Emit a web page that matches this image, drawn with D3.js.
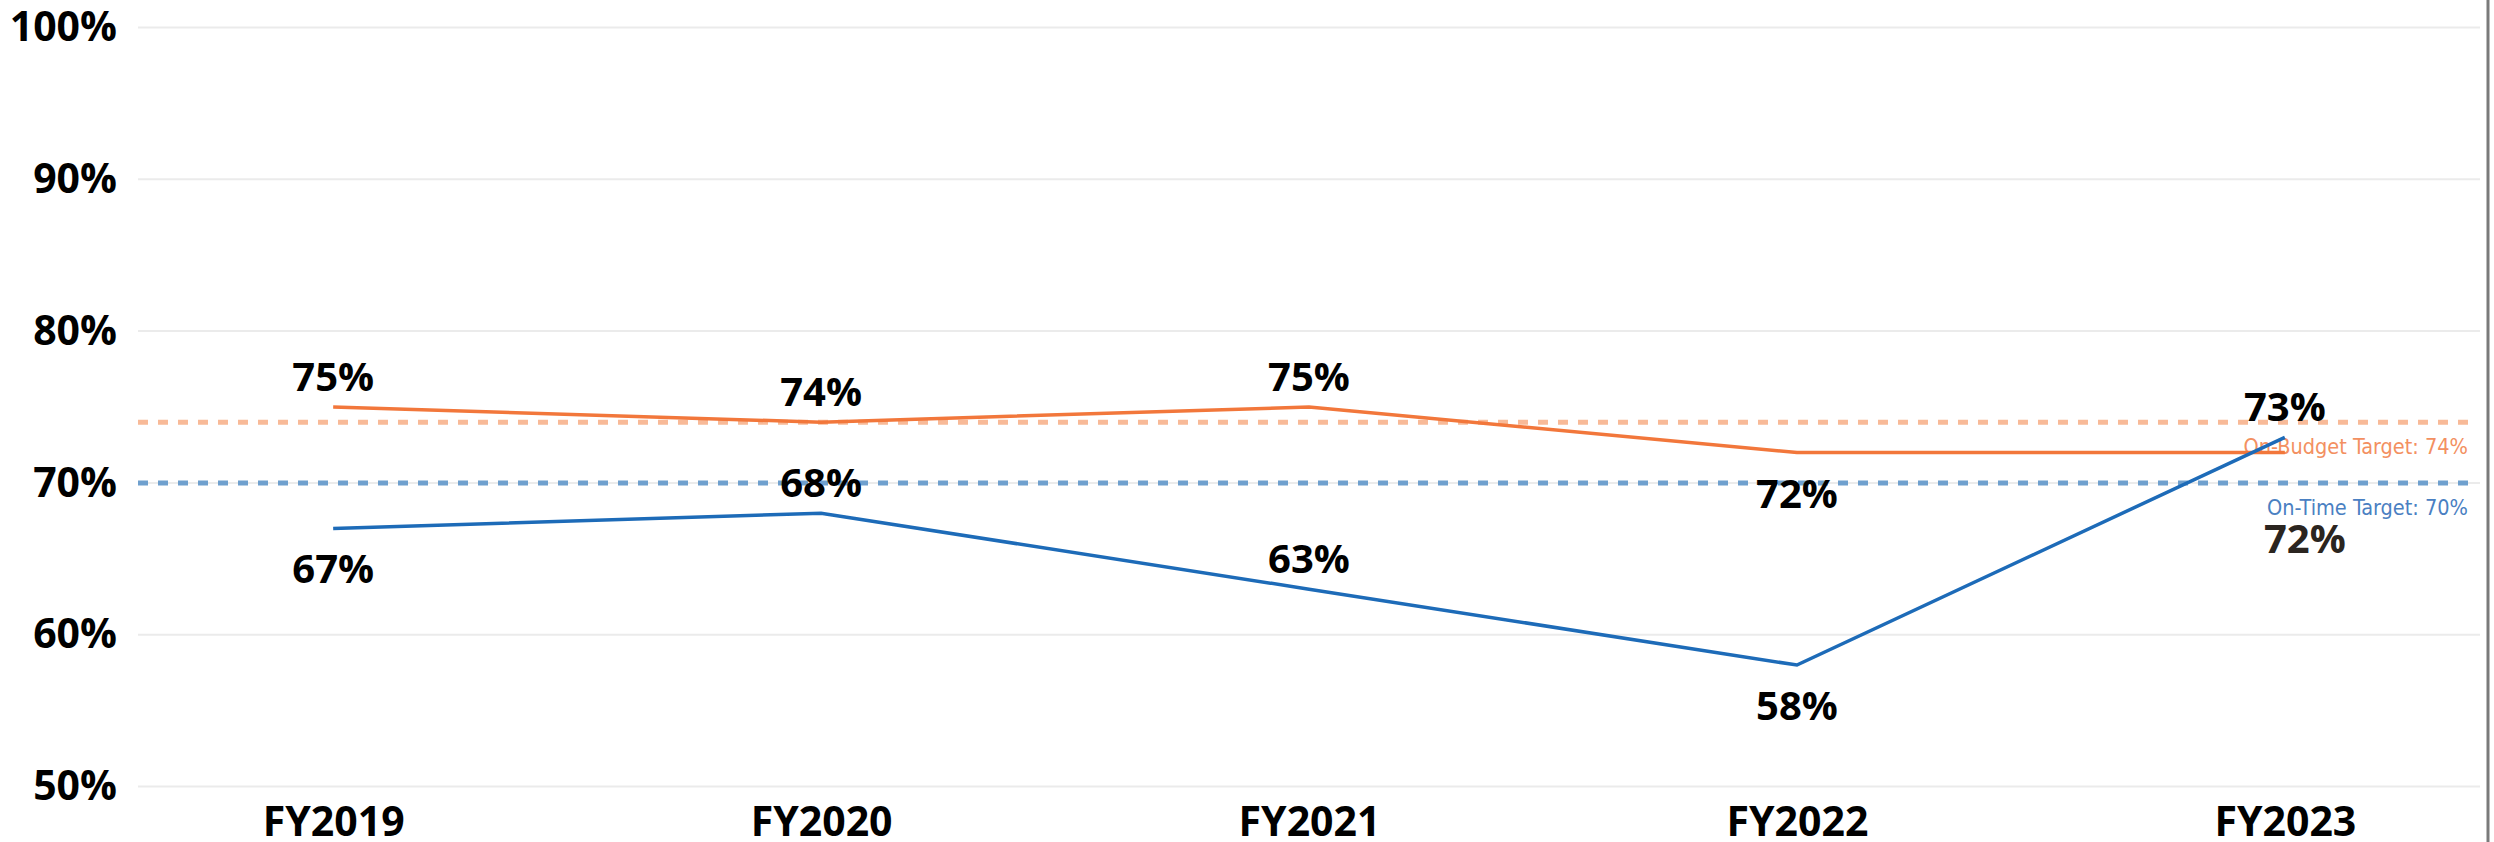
<!DOCTYPE html>
<html>
<head>
<meta charset="utf-8">
<script src="https://cdn.jsdelivr.net/npm/d3@7"></script>
<style>
  body { margin: 0; background: #fff; }
  svg { display: block; }
</style>
</head>
<body>
<script>
// chart data
let years = ["FY2019", "FY2020", "FY2021", "FY2022", "FY2023"];
let onBudget = [0.75, 0.74, 0.75, 0.72, 0.72];
let onTime = [0.67, 0.68, 0.63, 0.58, 0.73];
let budgetTarget = 0.74;
let timeTarget = 0.70;
let yTicks = [0.5, 0.6, 0.7, 0.8, 0.9, 1.0];

// where each value label sits relative to its point
let budgetLabelSide = ["above", "above", "above", "below", "below"];
let timeLabelSide = ["below", "above", "above", "below", "above"];

let W = 2494, H = 842;
let margin = {top: 27.5, right: 14, bottom: 55.5, left: 138};
let width = W - margin.left - margin.right;
let height = H - margin.top - margin.bottom;

let orange = "#F2773B", blue = "#1D6BB8";

let svg = d3.select("body").append("svg")
    .attr("width", W)
    .attr("height", H);

let g = svg.append("g")
    .attr("transform", "translate(" + margin.left + "," + margin.top + ")");

let xScale = d3.scalePoint().domain(years).range([0, width]).padding(0.4);
let yScale = d3.scaleLinear().domain([0.5, 1.0]).range([height, 0]);

// gridlines
g.selectAll(".grid")
    .data(yTicks)
  .enter().append("line")
    .attr("x1", 0).attr("x2", width)
    .attr("y1", d => yScale(d)).attr("y2", d => yScale(d))
    .attr("stroke", "#ebebeb")
    .attr("stroke-width", 2);

// y axis labels
let yAxis = g.append("g")
    .call(d3.axisLeft(yScale).tickValues(yTicks).tickSize(0).tickPadding(21).tickFormat(d3.format(".0%")));
yAxis.select(".domain").remove();
yAxis.selectAll("text")
    .attr("font-family", "'Open Sans', sans-serif")
    .attr("font-weight", 700)
    .attr("font-size", 41)
    .attr("fill", "#000");

// x axis labels
let xAxis = g.append("g")
    .attr("transform", "translate(0," + height + ")")
    .call(d3.axisBottom(xScale).tickSize(0).tickPadding(20));
xAxis.select(".domain").remove();
xAxis.selectAll("text")
    .attr("font-family", "'Open Sans', sans-serif")
    .attr("font-weight", 700)
    .attr("font-size", 41)
    .attr("fill", "#000");

// target lines
let targets = [
  {value: budgetTarget, color: "#F8BA98", text: "#F39061", label: "On-Budget Target: "},
  {value: timeTarget, color: "#6FA0CE", text: "#4A80C2", label: "On-Time Target: "}
];
g.selectAll(".target")
    .data(targets)
  .enter().append("line")
    .attr("x1", 0).attr("x2", width - 10)
    .attr("y1", d => yScale(d.value)).attr("y2", d => yScale(d.value))
    .attr("stroke", d => d.color)
    .attr("stroke-width", 5)
    .attr("stroke-dasharray", "10,10");

g.selectAll(".target-label")
    .data(targets)
  .enter().append("text")
    .attr("x", width - 12)
    .attr("y", d => yScale(d.value) + 32)
    .attr("text-anchor", "end")
    .attr("font-family", "'DejaVu Sans Condensed', 'DejaVu Sans', sans-serif")
    .attr("font-size", 21.5)
    .attr("fill", d => d.text)
    .text(d => d.label + d3.format(".0%")(d.value));

// the two series lines
let line = d3.line()
    .x((d, i) => xScale(years[i]))
    .y(d => yScale(d));

g.append("path")
    .datum(onBudget)
    .attr("fill", "none")
    .attr("stroke", orange)
    .attr("stroke-width", 3.5)
    .attr("d", line);

g.append("path")
    .datum(onTime)
    .attr("fill", "none")
    .attr("stroke", blue)
    .attr("stroke-width", 3.5)
    .attr("d", line);

// value labels
function addLabels(values, sides, cls) {
  g.selectAll("." + cls)
      .data(values)
    .enter().append("text")
      .attr("class", cls)
      .attr("x", (d, i) => xScale(years[i]))
      .attr("y", (d, i) => yScale(d) + (sides[i] === "above" ? -16 : 55))
      .attr("text-anchor", "middle")
      .attr("font-family", "'Open Sans', sans-serif")
      .attr("font-weight", 700)
      .attr("font-size", 40)
      .attr("fill", "#000")
      .text(d => d3.format(".0%")(d));
}
addLabels(onBudget, budgetLabelSide, "budget-label");
addLabels(onTime, timeLabelSide, "time-label");

// last on-budget label is pushed clear of the target captions
g.selectAll(".budget-label")
    .filter((d, i) => i === years.length - 1)
    .attr("dx", 20)
    .attr("dy", 45)
    .attr("fill", "#2b2520");

// right border
svg.append("line")
    .attr("x1", W - 6).attr("x2", W - 6)
    .attr("y1", 0).attr("y2", H)
    .attr("stroke", "#7a7a7a")
    .attr("stroke-width", 3);
</script>
</body>
</html>
